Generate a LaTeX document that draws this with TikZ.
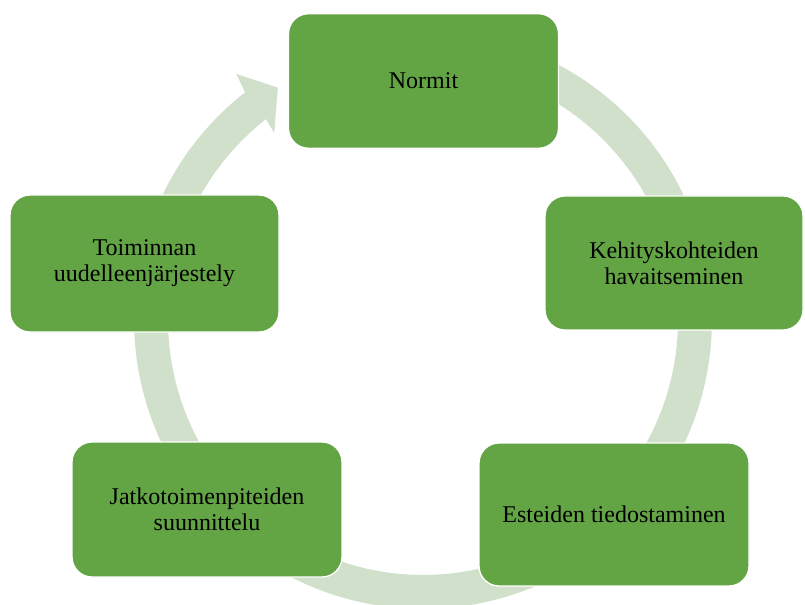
\documentclass[tikz,border=0pt]{standalone}
\usepackage{fontspec}
\setmainfont{Liberation Serif}
\definecolor{boxgreen}{RGB}{99,165,69}
\definecolor{ringgreen}{RGB}{209,224,203}
\begin{document}
\begin{tikzpicture}[x=0.75pt,y=-0.75pt,
  stagebox/.style={draw=white, line width=1pt, fill=boxgreen,
    rounded corners=15pt, align=center, inner sep=0pt,
    font=\fontsize{18}{19.5}\selectfont}]
\useasboundingbox (0,0) rectangle (805,605);

% circular arrow behind the stages
\def\ringx{423}\def\ringy{320}
\fill[ringgreen]
  plot[domain=265:592, samples=140] ({\ringx+289*cos(\x)},{\ringy+289*sin(\x)})
  -- ({\ringx+309*cos(592.8)},{\ringy+309*sin(592.8)})
  -- ({\ringx+274*cos(598)},{\ringy+274*sin(598)})
  -- ({\ringx+239*cos(591.5)},{\ringy+239*sin(591.5)})
  -- plot[domain=592:265, samples=140] ({\ringx+255*cos(\x)},{\ringy+255*sin(\x)})
  -- cycle;

% stages
\node[stagebox, minimum width=202.5pt, minimum height=100.9pt] (normit) at (423.5,81) {Normit};
\node[stagebox, minimum width=193.5pt, minimum height=100.5pt] (kehitys) at (674,263) {Kehityskohteiden\\havaitseminen};
\node[stagebox, minimum width=202.5pt, minimum height=107.25pt] (esteet) at (614,514.5) {Esteiden tiedostaminen};
\node[stagebox, minimum width=202.5pt, minimum height=101.25pt] (jatko) at (207,509.5) {Jatkotoimenpiteiden\\suunnittelu};
\node[stagebox, minimum width=201.75pt, minimum height=102.75pt] (toiminta) at (144.5,263.5) {Toiminnan\\uudelleenjärjestely};
\end{tikzpicture}
\end{document}
